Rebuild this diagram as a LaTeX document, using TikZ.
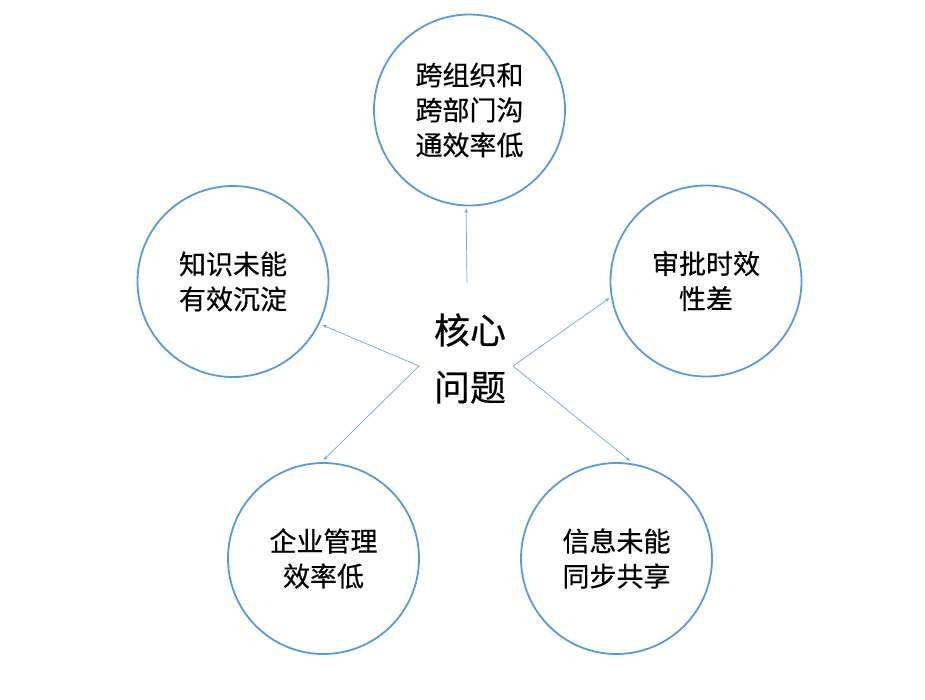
\documentclass[tikz,border=0pt]{standalone}
\usepackage{fontspec}
\newfontfamily\cjk{Noto Sans CJK SC}[FakeBold=0.4]
\usetikzlibrary{arrows.meta}
\definecolor{cblue}{HTML}{5B9BD5}
\definecolor{ablue}{HTML}{6FA8DC}
\begin{document}
\begin{tikzpicture}[x=1pt,y=-1pt,
  issue/.style={circle,draw=cblue,line width=1.8pt,minimum size=191pt,inner sep=0pt,outer sep=0pt,
    align=center,font=\cjk\fontsize{27}{35}\selectfont,text=black},
  core/.style={align=center,font=\cjk\fontsize{36}{57}\selectfont,text=black},
  link/.style={draw=ablue,line width=0.7pt,-{Stealth[length=4.5pt,width=3.5pt]}}]
\useasboundingbox[fill=white] (0,0) rectangle (925,699);
\node[issue] (tp) at (469.5,110) {跨组织和\\跨部门沟\\通效率低};
\node[issue] (lt) at (233,281.5) {知识未能\\有效沉淀};
\node[issue] (rt) at (706,281) {审批时效\\性差};
\node[issue] (bl) at (323.5,558.5) {企业管理\\效率低};
\node[issue] (br) at (616.5,558.5) {信息未能\\同步共享};
\node[core] (c) at (470,358.5) {核心\\问题};
\coordinate (s0) at (467,283);
\coordinate (sl) at (419,366);
\coordinate (sr) at (513,366);
\draw[link] (s0) -- ([shift={(268.5:3pt)}]tp.268.5);
\draw[link] (sl) -- ([shift={(334:4pt)}]lt.334);
\draw[link] (sr) -- ([shift={(190.6:2.5pt)}]rt.190.6);
\draw[link] (sl) -- ([shift={(90:3pt)}]bl.90);
\draw[link] (sr) -- ([shift={(82:3pt)}]br.82);
\end{tikzpicture}
\end{document}
